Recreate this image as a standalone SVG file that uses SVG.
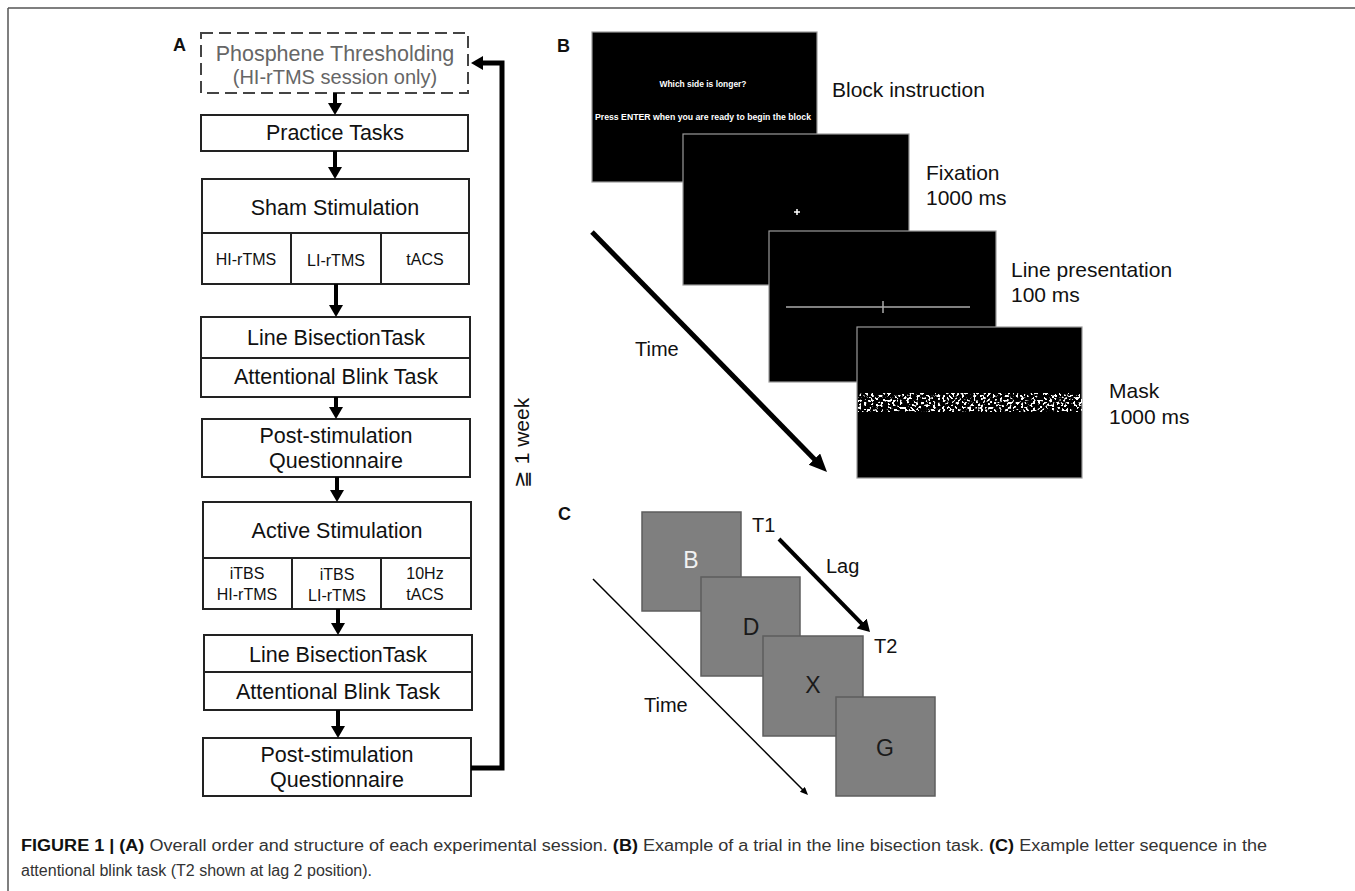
<svg xmlns="http://www.w3.org/2000/svg" width="1355" height="891" viewBox="0 0 1355 891">
<style>
  text { font-family: "Liberation Sans", Arial, sans-serif; }
  .box { fill: #fff; stroke: #222; stroke-width: 2; }
  .dash { fill: #fff; stroke: #444; stroke-width: 2; stroke-dasharray: 12 6; }
  .div { stroke: #222; stroke-width: 2; fill: none; }
  .t21 { font-size: 21.5px; fill: #111; text-anchor: middle; }
  .t16 { font-size: 16px; fill: #111; text-anchor: middle; }
  .gray { fill: #666; }
  .lbl { font-size: 18px; font-weight: bold; fill: #111; }
  .side { font-size: 21px; fill: #111; }
  .scr { fill: #000; stroke: #9a9a9a; stroke-width: 1.2; }
  .sq { fill: #7f7f7f; stroke: #5e5e5e; stroke-width: 1.5; }
  .let { font-size: 23px; text-anchor: middle; fill: #1a1a1a; }
  .conn { stroke: #000; fill: none; }
  .cap { font-size: 16px; fill: #333; }
</style>
<defs>
  <marker id="ah" markerUnits="userSpaceOnUse" markerWidth="14" markerHeight="14" refX="4" refY="7" orient="auto">
    <path d="M0,0 L12,7 L0,14 z" fill="#000"/>
  </marker>
  <marker id="ahB" markerUnits="userSpaceOnUse" markerWidth="20" markerHeight="18" refX="6" refY="8" orient="auto">
    <path d="M0,0 L18,8 L0,16 z" fill="#000"/>
  </marker>
  <marker id="ahS" markerUnits="userSpaceOnUse" markerWidth="10" markerHeight="8" refX="3" refY="3.5" orient="auto">
    <path d="M0,0 L8,3.5 L0,7 z" fill="#000"/>
  </marker>
  <filter id="speckle" x="0" y="0" width="1" height="1" color-interpolation-filters="sRGB">
    <feTurbulence type="fractalNoise" baseFrequency="0.42" numOctaves="1" seed="11"/>
    <feColorMatrix type="matrix" values="0 0 0 0 1  0 0 0 0 1  0 0 0 0 1  16 0 0 0 -8.6"/>
  </filter>
</defs>

<!-- frame lines -->
<line x1="8" y1="8" x2="1355" y2="8" stroke="#555" stroke-width="1.5"/>
<line x1="8" y1="8" x2="8" y2="891" stroke="#555" stroke-width="1.5"/>

<!-- Panel labels -->
<text class="lbl" x="173" y="51">A</text>
<text class="lbl" x="557" y="52">B</text>
<text class="lbl" x="558" y="520">C</text>

<!-- Panel A nodes -->
<g id="phosphene">
  <rect class="dash" x="201" y="33" width="267" height="60"/>
  <text class="t21 gray" x="335" y="61">Phosphene Thresholding</text>
  <text class="t21 gray" x="335" y="84" style="font-size:20px">(HI-rTMS session only)</text>
</g>
<g id="practice">
  <rect class="box" x="201" y="115" width="267" height="36"/>
  <text class="t21" x="335" y="140">Practice Tasks</text>
</g>
<g id="sham">
  <rect class="box" x="202" y="179" width="267" height="105"/>
  <line class="div" x1="202" y1="233" x2="469" y2="233"/>
  <line class="div" x1="291" y1="233" x2="291" y2="284"/>
  <line class="div" x1="381" y1="233" x2="381" y2="284"/>
  <text class="t21" x="335" y="215">Sham Stimulation</text>
  <text class="t16" x="246" y="265">HI-rTMS</text>
  <text class="t16" x="336" y="266">LI-rTMS</text>
  <text class="t16" x="425" y="265">tACS</text>
</g>
<g id="tasks1">
  <rect class="box" x="201" y="317" width="269" height="80"/>
  <line class="div" x1="201" y1="358" x2="470" y2="358"/>
  <text class="t21" x="336" y="345">Line BisectionTask</text>
  <text class="t21" x="336" y="384">Attentional Blink Task</text>
</g>
<g id="post1">
  <rect class="box" x="202" y="419" width="268" height="58"/>
  <text class="t21" x="336" y="443">Post-stimulation</text>
  <text class="t21" x="336" y="468">Questionnaire</text>
</g>
<g id="active">
  <rect class="box" x="203" y="502" width="268" height="107"/>
  <line class="div" x1="203" y1="558" x2="471" y2="558"/>
  <line class="div" x1="292" y1="558" x2="292" y2="609"/>
  <line class="div" x1="381" y1="558" x2="381" y2="609"/>
  <text class="t21" x="337" y="538">Active Stimulation</text>
  <text class="t16" x="247" y="579">iTBS</text>
  <text class="t16" x="247" y="600">HI-rTMS</text>
  <text class="t16" x="337" y="580">iTBS</text>
  <text class="t16" x="337" y="601">LI-rTMS</text>
  <text class="t16" x="425" y="579">10Hz</text>
  <text class="t16" x="425" y="600">tACS</text>
</g>
<g id="tasks2">
  <rect class="box" x="204" y="635" width="268" height="75"/>
  <line class="div" x1="204" y1="672" x2="472" y2="672"/>
  <text class="t21" x="338" y="662">Line BisectionTask</text>
  <text class="t21" x="338" y="699">Attentional Blink Task</text>
</g>
<g id="post2">
  <rect class="box" x="203" y="738" width="268" height="58"/>
  <text class="t21" x="337" y="762">Post-stimulation</text>
  <text class="t21" x="337" y="787">Questionnaire</text>
</g>

<!-- Panel A connectors -->
<g id="connectors-A">
  <line class="conn" stroke-width="4" x1="335" y1="93" x2="335" y2="107" marker-end="url(#ah)"/>
  <line class="conn" stroke-width="4" x1="335" y1="151" x2="335" y2="171" marker-end="url(#ah)"/>
  <line class="conn" stroke-width="4" x1="336" y1="284" x2="336" y2="309" marker-end="url(#ah)"/>
  <line class="conn" stroke-width="4" x1="336" y1="397" x2="336" y2="411" marker-end="url(#ah)"/>
  <line class="conn" stroke-width="4" x1="337" y1="477" x2="337" y2="494" marker-end="url(#ah)"/>
  <line class="conn" stroke-width="4" x1="338" y1="609" x2="338" y2="627" marker-end="url(#ah)"/>
  <line class="conn" stroke-width="4" x1="338" y1="710" x2="338" y2="730" marker-end="url(#ah)"/>
  <path class="conn" stroke-width="5" d="M471,768 H502 V63 H479" marker-end="url(#ah)"/>
  <text class="side" transform="translate(529,443) rotate(-90)" text-anchor="middle">≧ 1 week</text>
</g>

<!-- Panel B -->
<g id="screen-instruction">
  <rect class="scr" x="592" y="32" width="225" height="150"/>
  <text x="703" y="87" font-size="9" font-weight="bold" fill="#fff" text-anchor="middle" textLength="87" lengthAdjust="spacingAndGlyphs">Which side is longer?</text>
  <text x="703" y="120" font-size="9" font-weight="bold" fill="#fff" text-anchor="middle" textLength="216" lengthAdjust="spacingAndGlyphs">Press ENTER when you are ready to begin the block</text>
  <text class="side" x="832" y="97">Block instruction</text>
</g>
<g id="screen-fixation">
  <rect class="scr" x="683" y="134" width="226" height="151"/>
  <path d="M794,212 H800 M797,209 V215" stroke="#fff" stroke-width="1.5"/>
  <text class="side" x="926" y="180">Fixation</text>
  <text class="side" x="926" y="205">1000 ms</text>
</g>
<g id="screen-line">
  <rect class="scr" x="769" y="231" width="227" height="151"/>
  <path d="M786,307 H970 M883,301 V313" stroke="#aaa" stroke-width="1.5"/>
  <text class="side" x="1011" y="277">Line presentation</text>
  <text class="side" x="1011" y="302">100 ms</text>
</g>
<g id="screen-mask">
  <rect class="scr" x="857" y="327" width="225" height="151"/>
  <rect x="858" y="393" width="224" height="19" fill="#fff" filter="url(#speckle)"/>
  <text class="side" x="1109" y="398">Mask</text>
  <text class="side" x="1109" y="424">1000 ms</text>
</g>
<g id="connectors-B">
  <line class="conn" stroke-width="5" x1="592" y1="232" x2="818.6" y2="463.4" marker-end="url(#ahB)"/>
  <text class="side" x="635" y="356" style="font-size:20px">Time</text>
</g>

<!-- Panel C -->
<g id="letter-B">
  <rect class="sq" x="642" y="512" width="99" height="99"/>
  <text class="let" x="691" y="568" style="fill:#f2f2f2">B</text>
</g>
<g id="letter-D">
  <rect class="sq" x="701" y="577" width="99" height="99"/>
  <text class="let" x="751" y="635">D</text>
</g>
<g id="letter-X">
  <rect class="sq" x="763" y="636" width="100" height="100"/>
  <text class="let" x="813" y="693">X</text>
</g>
<g id="letter-G">
  <rect class="sq" x="836" y="697" width="99" height="99"/>
  <text class="let" x="885" y="756">G</text>
</g>
<g id="connectors-C">
  <line class="conn" stroke-width="4" x1="779" y1="539" x2="864.4" y2="626.3" marker-end="url(#ah)"/>
  <line class="conn" stroke-width="1.5" x1="593" y1="579" x2="804.5" y2="791.5" marker-end="url(#ahS)"/>
  <text class="side" x="752" y="532" style="font-size:20px">T1</text>
  <text class="side" x="874" y="653" style="font-size:20px">T2</text>
  <text class="side" x="826" y="573" style="font-size:20px">Lag</text>
  <text class="side" x="644" y="712" style="font-size:20px">Time</text>
</g>

<!-- Caption -->
<text class="cap" x="21" y="851" textLength="1246" lengthAdjust="spacingAndGlyphs"><tspan font-weight="bold" fill="#111">FIGURE 1 | (A)</tspan> Overall order and structure of each experimental session. <tspan font-weight="bold" fill="#111">(B)</tspan> Example of a trial in the line bisection task. <tspan font-weight="bold" fill="#111">(C)</tspan> Example letter sequence in the</text>
<text class="cap" x="21" y="876" textLength="351" lengthAdjust="spacingAndGlyphs">attentional blink task (T2 shown at lag 2 position).</text>
</svg>
